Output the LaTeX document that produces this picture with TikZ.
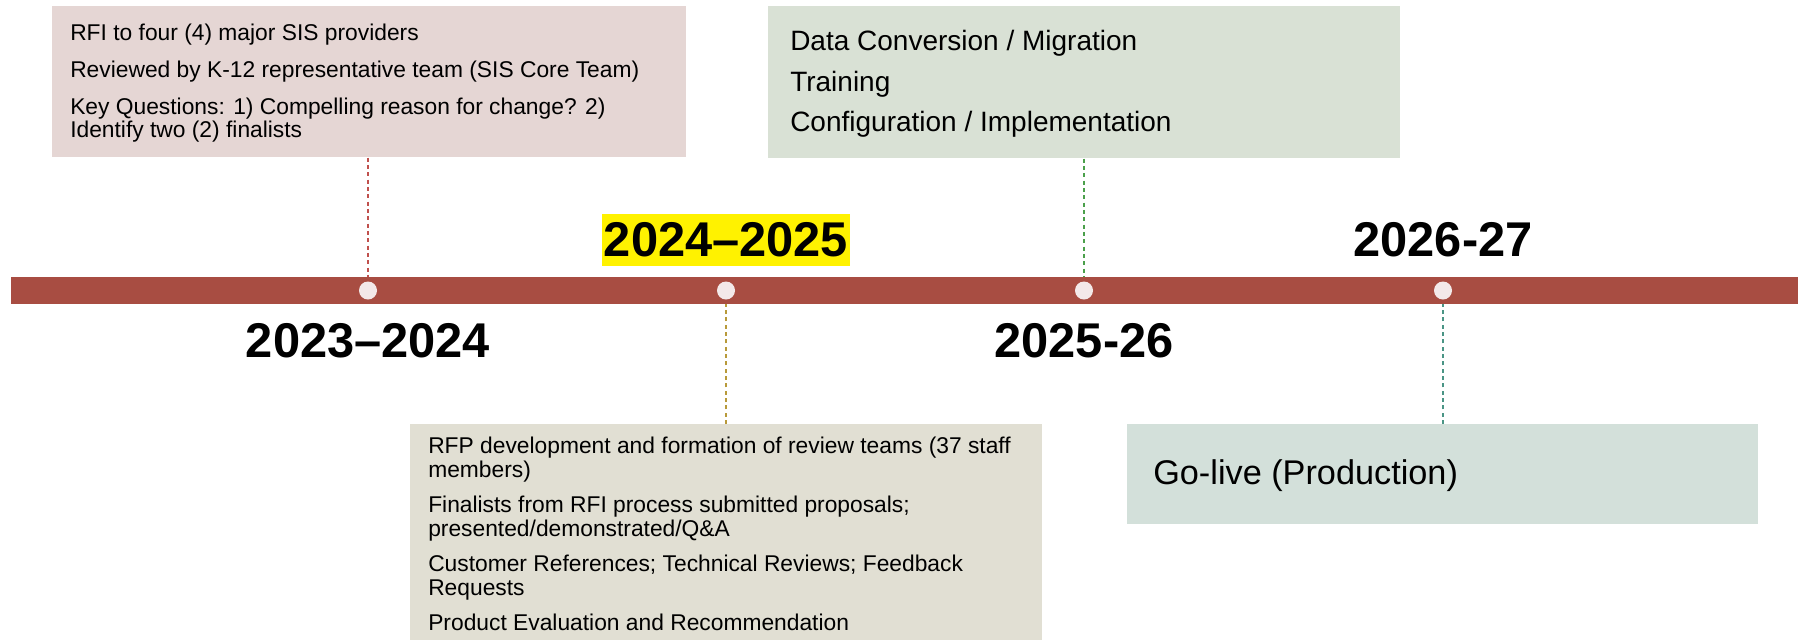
\documentclass[tikz,border=0pt]{standalone}
\usepackage{fontspec}
\setmainfont{Liberation Sans}
\usetikzlibrary{positioning}

\definecolor{barred}{HTML}{A84D42}
\definecolor{dotwhite}{HTML}{F3E9E9}
\definecolor{pinkbox}{HTML}{E5D6D4}
\definecolor{greenbox}{HTML}{D9E1D5}
\definecolor{sandbox}{HTML}{E1DFD3}
\definecolor{tealbox}{HTML}{D3E0DA}
\definecolor{linkred}{HTML}{C0504D}
\definecolor{linkgreen}{HTML}{4BA04B}
\definecolor{linkolive}{HTML}{B89A3A}
\definecolor{linkteal}{HTML}{4A9585}

\newcommand{\smalltxt}{\fontsize{17.1}{17.6}\selectfont}
\newcommand{\midtxt}{\fontsize{21}{30.5}\selectfont}
\newcommand{\bigtxt}{\fontsize{25.7}{30}\selectfont}

\begin{document}
\begin{tikzpicture}[x=0.75pt, y=-0.75pt,
    evbox/.style={inner sep=0pt, anchor=north west},
    evtext/.style={inner sep=0pt, anchor=north west, align=left},
    yearlbl/.style={inner sep=0pt, anchor=base, font=\fontsize{36.6}{40}\selectfont\bfseries},
    tielink/.style={dash pattern=on 3pt off 2.5pt, line width=0.8pt},
    stopdot/.style={circle, fill=dotwhite, inner sep=0pt, minimum size=13.5pt}]
    \useasboundingbox (0,0) rectangle (1801,640);

    % event boxes
    \node[evbox, fill=pinkbox, minimum width=475.5pt, minimum height=113.25pt] (box1) at (52,6) {};
    \node[evbox, fill=greenbox, minimum width=474pt, minimum height=114pt] (box2) at (768,6) {};
    \node[evbox, fill=sandbox, minimum width=474pt, minimum height=162pt] (box3) at (410,424) {};
    \node[evbox, fill=tealbox, minimum width=473.25pt, minimum height=75pt] (box4) at (1127,424) {};

    \node[evtext, font=\smalltxt] (text1) at (70,24) {RFI to four (4) major SIS providers\\[10pt]
        Reviewed by K-12 representative team (SIS Core Team)\\[10pt]
        Key Questions: 1) Compelling reason for change? 2)\\
        Identify two (2) finalists};
    \node[evtext, font=\midtxt] (text2) at (790,30) {Data Conversion / Migration\\
        Training\\
        Configuration / Implementation};
    \node[evtext, font=\smalltxt] (text3) at (428,437) {RFP development and formation of review teams (37 staff\\
        members)\\[9pt]
        Finalists from RFI process submitted proposals;\\
        presented/demonstrated/Q\&A\\[9pt]
        Customer References; Technical Reviews; Feedback\\
        Requests\\[9pt]
        Product Evaluation and Recommendation};
    \node[inner sep=0pt, anchor=west, font=\bigtxt] (text4) at (1153,476) {Go-live (Production)};

    % stops on the line
    \coordinate (p1) at (368,290.5);
    \coordinate (p2) at (726,290.5);
    \coordinate (p3) at (1084,290.5);
    \coordinate (p4) at (1443,290.5);

    \draw[tielink, linkred] (box1.south -| p1) -- (p1);
    \draw[tielink, linkolive] (box3.north -| p2) -- (p2);
    \draw[tielink, linkgreen] (box2.south -| p3) -- (p3);
    \draw[tielink, linkteal] (box4.north -| p4) -- (p4);

    % the timeline
    \fill[barred] (11,277) rectangle (1798,304);
    \foreach \i in {1,...,4}
        \node[stopdot] (dot\i) at (p\i) {};

    % years
    \node[yearlbl] (yr1) at (368,357) {2023--2024};
    \node[yearlbl, fill=yellow, inner xsep=1.5pt, text height=31.5pt, text depth=7.5pt] (yr2) at (726,256) {2024--2025};
    \node[yearlbl] (yr3) at (1084,357) {2025-26};
    \node[yearlbl] (yr4) at (1443,256) {2026-27};
\end{tikzpicture}
\end{document}
